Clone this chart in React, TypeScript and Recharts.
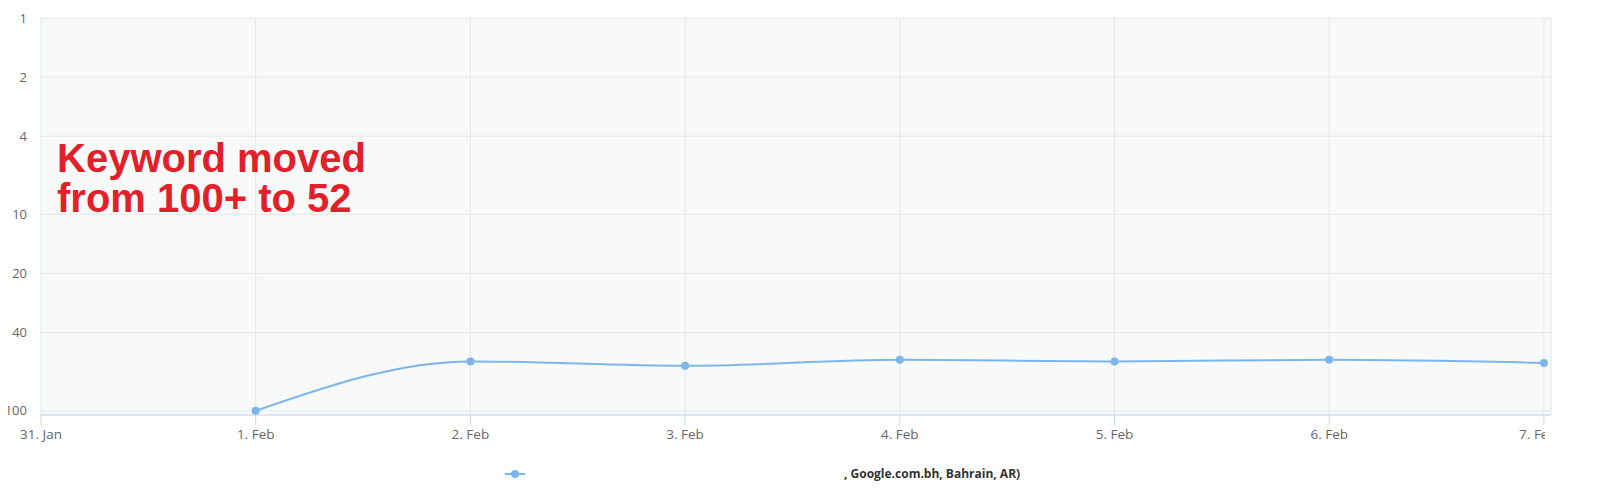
import React from "react"
import { LineChart, Line, XAxis, YAxis, CartesianGrid } from "recharts"

// days on the x axis (index 0 = 31. Jan)
const dayIndex = [0, 1, 2, 3, 4, 5, 6, 7]
const dayLabels = ["31. Jan", "1. Feb", "2. Feb", "3. Feb", "4. Feb", "5. Feb", "6. Feb", "7. Feb"]
// ranking position per day, no data for 31. Jan
const positions = [null, 100, 56, 59, 55, 56, 55, 57]
const rankTicks = [1, 2, 4, 10, 20, 40, 100]

const legendLabel = ", Google.com.bh, Bahrain, AR)"
const noteLines = ["Keyword moved", "from 100+ to 52"]

const data = dayIndex.map((d, i) => ({ day: d, position: positions[i] }))

const LINE = "#7cb5ec"

function DayTick(props: any) {
  const { x, y, payload } = props
  // last label is pushed left to fit, like the original chart
  const shift = payload.value === dayIndex[dayIndex.length - 1] ? -6 : 0
  return (
    <text x={x + shift} y={y} dy="0.71em" textAnchor="middle" fill="#666" fontSize={13.5} clipPath="url(#tick-clip)">
      {dayLabels[payload.value]}
    </text>
  )
}

function RankTick(props: any) {
  const { y, payload } = props
  return (
    <text x={27} y={y} dy="0.355em" textAnchor="end" fill="#666" fontSize={13} fontFamily="'Open Sans', sans-serif">
      {String(payload.value)}
    </text>
  )
}

export default function App() {
  return (
    <div style={{ marginLeft: -8, marginTop: -8, width: 1598, height: 502, position: "relative", background: "#fff", fontFamily: "'Open Sans', sans-serif" }}>
      <LineChart width={1598} height={502} data={data} margin={{ top: 18, right: 47, left: 0, bottom: 57 }} style={{ fontFamily: "'Open Sans', sans-serif", overflow: "visible" }}>
        <defs>
          <clipPath id="tick-clip">
            <rect x={0} y={0} width={1545} height={502} />
          </clipPath>
        </defs>
        <CartesianGrid stroke="#e6e6e6" fill="#f8fafa" />
        <XAxis
          type="number"
          dataKey="day"
          domain={[0, 7.033]}
          ticks={dayIndex}
          interval={0}
          height={30}
          tickSize={10}
          tickMargin={4}
          axisLine={{ stroke: "#ccd6eb" }}
          tickLine={{ stroke: "#ccd6eb" }}
          tick={<DayTick />}
        />
        <YAxis
          type="number"
          scale="log"
          domain={[1, 105]}
          reversed
          allowDataOverflow
          ticks={rankTicks}
          interval={0}
          width={41}
          tickSize={0}
          axisLine={false}
          tickLine={false}
          tick={<RankTick />}
        />
        <Line
          type="monotone"
          dataKey="position"
          stroke={LINE}
          strokeWidth={2}
          dot={{ r: 4, fill: LINE, stroke: LINE, strokeWidth: 0 }}
          activeDot={false}
          isAnimationActive={false}
        />
      </LineChart>

      <div style={{ position: "absolute", left: 57, top: 138, color: "#e2202a", fontFamily: "'Liberation Sans', Arial, sans-serif", fontWeight: 700, fontSize: 40, lineHeight: "40px", whiteSpace: "nowrap", pointerEvents: "none" }}>
        {noteLines.map((l) => (
          <div key={l}>{l}</div>
        ))}
      </div>

      <svg style={{ position: "absolute", left: 503, top: 466 }} width={24} height={16}>
        <line x1={2} y1={8} x2={22} y2={8} stroke={LINE} strokeWidth={2} />
        <circle cx={12} cy={8} r={4} fill={LINE} />
      </svg>
      <div style={{ position: "absolute", left: 844, top: 465, lineHeight: "18px", fontSize: 12, fontWeight: 700, color: "#333", whiteSpace: "nowrap" }}>
        {legendLabel}
      </div>
    </div>
  )
}
